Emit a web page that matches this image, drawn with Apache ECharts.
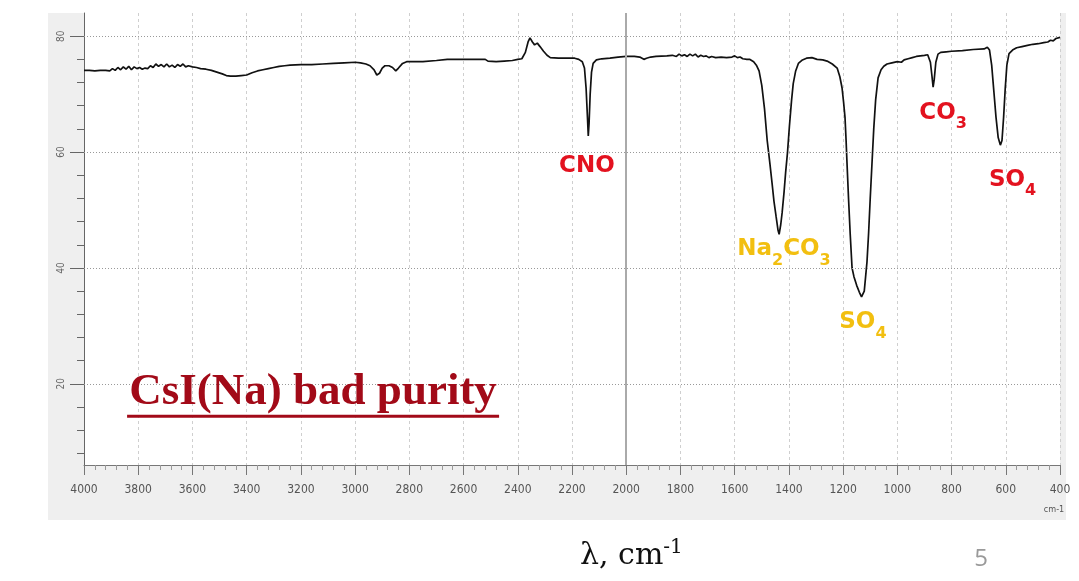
<!DOCTYPE html>
<html>
<head>
<meta charset="utf-8">
<script src="https://cdn.jsdelivr.net/npm/echarts@6/dist/echarts.min.js"></script>
<style>
html, body { margin: 0; padding: 0; background: #fff; }
#chart { width: 1079px; height: 581px; }
</style>
</head>
<body>
<div id="chart"></div>
<script>
// IR transmission spectrum, [wavenumber cm-1, transmittance %]
const spectrum = [
	[4000, 74.1], [3980, 74.1], [3960, 74.0], [3940, 74.1], [3920, 74.1], [3905, 74.0],
	[3895, 74.4], [3885, 74.1], [3875, 74.6], [3865, 74.2], [3855, 74.7], [3845, 74.3],
	[3835, 74.8], [3825, 74.2], [3815, 74.7], [3805, 74.4], [3795, 74.6], [3785, 74.3],
	[3775, 74.5], [3765, 74.4], [3755, 74.9], [3745, 74.6], [3735, 75.2], [3725, 74.8],
	[3715, 75.1], [3705, 74.7], [3695, 75.2], [3685, 74.7], [3675, 75.0], [3665, 74.6],
	[3655, 75.1], [3645, 74.8], [3635, 75.2], [3625, 74.7], [3615, 74.9], [3600, 74.7],
	[3585, 74.6], [3570, 74.4], [3550, 74.3], [3530, 74.1], [3510, 73.8], [3490, 73.5],
	[3475, 73.2], [3460, 73.1], [3440, 73.1], [3420, 73.2], [3400, 73.3], [3380, 73.7],
	[3360, 74.0], [3340, 74.2], [3320, 74.4], [3300, 74.6], [3280, 74.8], [3260, 74.9],
	[3240, 75.0], [3200, 75.1], [3160, 75.1], [3120, 75.2], [3080, 75.3], [3040, 75.4],
	[3000, 75.5], [2980, 75.4], [2960, 75.2], [2945, 74.9], [2930, 74.2], [2920, 73.3],
	[2910, 73.6], [2900, 74.5], [2890, 74.9], [2875, 74.9], [2862, 74.6], [2850, 74.0],
	[2840, 74.5], [2825, 75.3], [2810, 75.6], [2750, 75.6], [2700, 75.8], [2660, 76.0],
	[2580, 76.0], [2520, 76.0], [2510, 75.7], [2480, 75.6], [2450, 75.7], [2420, 75.8],
	[2400, 76.0], [2385, 76.1], [2372, 77.2], [2362, 79.0], [2355, 79.7], [2346, 79.0],
	[2338, 78.5], [2328, 78.8], [2318, 78.2], [2305, 77.4], [2292, 76.7], [2280, 76.3],
	[2250, 76.2], [2190, 76.2], [2175, 76.0], [2162, 75.6], [2154, 74.5], [2148, 71.0],
	[2143, 66.0], [2140, 62.8], [2137, 65.0], [2133, 70.0], [2128, 73.8], [2122, 75.3],
	[2110, 75.9], [2090, 76.1], [2060, 76.2], [2030, 76.4], [2000, 76.5], [1970, 76.5],
	[1950, 76.4], [1935, 76.0], [1925, 76.2], [1910, 76.4], [1890, 76.5], [1850, 76.6],
	[1830, 76.7], [1815, 76.5], [1805, 76.9], [1795, 76.6], [1785, 76.8], [1775, 76.5],
	[1765, 76.9], [1755, 76.6], [1745, 76.9], [1735, 76.4], [1725, 76.7], [1715, 76.5],
	[1705, 76.6], [1695, 76.3], [1685, 76.5], [1670, 76.3], [1650, 76.4], [1630, 76.3],
	[1610, 76.4], [1600, 76.6], [1590, 76.3], [1580, 76.4], [1570, 76.1], [1555, 76.0],
	[1545, 76.0], [1530, 75.6], [1520, 75.0], [1510, 74.0], [1500, 71.5], [1490, 67.5],
	[1480, 62.0], [1470, 58.0], [1462, 54.6], [1455, 51.5], [1447, 48.8], [1440, 46.5],
	[1436, 45.8], [1430, 47.5], [1425, 49.5], [1418, 53.0], [1412, 56.5], [1405, 60.0],
	[1398, 64.5], [1390, 69.0], [1384, 71.8], [1375, 74.0], [1365, 75.3], [1350, 75.9],
	[1335, 76.2], [1315, 76.3], [1296, 76.0], [1275, 75.9], [1259, 75.7], [1240, 75.2],
	[1222, 74.5], [1212, 73.0], [1204, 71.1], [1198, 68.5], [1193, 66.0], [1189, 62.0],
	[1186, 58.5], [1180, 52.0], [1174, 46.0], [1167, 40.0], [1160, 38.5], [1150, 37.0],
	[1140, 35.8], [1132, 35.0], [1127, 34.8], [1122, 36.0], [1117, 38.5], [1112, 41.0],
	[1106, 46.0], [1100, 52.0], [1093, 58.5], [1087, 64.0], [1080, 69.0], [1071, 72.8],
	[1060, 74.2], [1050, 74.8], [1038, 75.2], [1020, 75.4], [1000, 75.6], [985, 75.5],
	[975, 75.9], [960, 76.1], [945, 76.3], [930, 76.5], [915, 76.6], [900, 76.7],
	[888, 76.8], [878, 75.5], [872, 73.0], [868, 71.2], [864, 72.5], [858, 75.5],
	[850, 76.9], [840, 77.2], [820, 77.3], [800, 77.4], [760, 77.5], [720, 77.7],
	[680, 77.8], [668, 78.1], [660, 77.6], [652, 75.0], [644, 70.5], [636, 66.0],
	[628, 62.5], [620, 61.2], [614, 62.0], [608, 66.0], [602, 71.0], [596, 75.0],
	[588, 77.0], [575, 77.6], [560, 78.0], [540, 78.2], [520, 78.4], [500, 78.6],
	[480, 78.7], [460, 78.9], [445, 79.0], [435, 79.3], [425, 79.2], [415, 79.6],
	[408, 79.5], [400, 79.8]
];

const majorLevels = [20, 40, 60, 80];
const minorLevels = [8, 12, 16, 20, 24, 28, 32, 36, 40, 44, 48, 52, 56, 60, 64, 68, 72, 76, 80];
const markerWavenumber = 2000;

// peak notes: wavenumber, transmittance, rich text
const peakNotes = [
	{ wn: 2145, t: 57.6, text: "{r|CNO}" },
	{ wn: 831, t: 66.7, text: "{r|CO}{rs|3}" },
	{ wn: 575, t: 55.2, text: "{r|SO}{rs|4}" },
	{ wn: 1418, t: 43.2, text: "{y|Na}{ys|2}{y|CO}{ys|3}" },
	{ wn: 1127, t: 30.6, text: "{y|SO}{ys|4}" },
	{ wn: 3155, t: 18.2, text: "{c|CsI(Na) bad purity}\n{u|}" }
];

const RED = "#e3121f";
const YELLOW = "#f2bf10";
const DARKRED = "#a20a18";
const NARROW = "'Liberation Sans Narrow', 'DejaVu Sans Condensed', sans-serif";

const chart = echarts.init(document.getElementById("chart"));

const noteRich = {
	r: { fontFamily: "DejaVu Sans", fontWeight: "bold", fontSize: 23, color: RED, lineHeight: 28 },
	rs: { fontFamily: "DejaVu Sans", fontWeight: "bold", fontSize: 16, color: RED, lineHeight: 16, padding: [22, 0, 0, 0] },
	y: { fontFamily: "DejaVu Sans", fontWeight: "bold", fontSize: 23, color: YELLOW, lineHeight: 28 },
	ys: { fontFamily: "DejaVu Sans", fontWeight: "bold", fontSize: 16, color: YELLOW, lineHeight: 16, padding: [22, 0, 0, 0] },
	c: { fontFamily: "Liberation Serif", fontWeight: "bold", fontSize: 45, color: DARKRED, lineHeight: 44 },
	u: { width: 372, height: 3, backgroundColor: DARKRED }
};

option = {
	animation: false,
	backgroundColor: "#fff",
	grid: {
		left: 84,
		right: 19,
		top: 13,
		bottom: 116
	},
	graphic: [{
		type: "rect",
		z: -2,
		shape: { x: 48, y: 13, width: 1018, height: 507 },
		style: { fill: "#efefef" }
	}, {
		type: "rect",
		z: -1,
		shape: { x: 84, y: 13, width: 976, height: 452 },
		style: { fill: "#fff" }
	}, {
		type: "text",
		x: 1054,
		y: 510,
		style: { text: "cm-1", fontSize: 9, fontFamily: NARROW, fill: "#555", align: "center", verticalAlign: "middle" }
	}, {
		type: "text",
		x: 580,
		y: 556,
		style: {
			text: "{m|λ, cm}{p|-1}",
			align: "left",
			verticalAlign: "middle",
			rich: {
				m: { fontFamily: "DejaVu Serif", fontSize: 30, fill: "#111", lineHeight: 34 },
				p: { fontFamily: "DejaVu Serif", fontSize: 20, fill: "#111", lineHeight: 20, padding: [0, 0, 16, 0] }
			}
		}
	}, {
		type: "text",
		x: 981,
		y: 559,
		style: { text: "5", fontFamily: "Open Sans", fontSize: 24, fill: "#9a9a9a", align: "center", verticalAlign: "middle" }
	}],
	xAxis: {
		type: "value",
		inverse: true,
		min: 400,
		max: 4000,
		interval: 200,
		axisLine: { onZero: false, lineStyle: { color: "#777", width: 1 } },
		axisTick: { show: true, length: 10, lineStyle: { color: "#777" } },
		minorTick: { show: true, splitNumber: 5, length: 5, lineStyle: { color: "#999" } },
		axisLabel: {
			fontSize: 12,
			fontFamily: NARROW,
			color: "#555",
			margin: 19,
			showMinLabel: true,
			showMaxLabel: true,
			formatter: v => String(v)
		},
		splitLine: { show: true, lineStyle: { type: [3, 3], color: "#cfcfcf" } }
	},
	yAxis: [{
		type: "value",
		min: 6,
		max: 84,
		position: "left",
		axisLine: { show: true, lineStyle: { color: "#666" } },
		axisTick: { show: true, length: 7, customValues: minorLevels, lineStyle: { color: "#666" } },
		axisLabel: { show: false },
		splitLine: { show: false }
	}, {
		type: "value",
		min: 6,
		max: 84,
		position: "left",
		axisLine: { show: false },
		axisTick: { show: true, length: 14, customValues: majorLevels, lineStyle: { color: "#666" } },
		axisLabel: { customValues: majorLevels, rotate: 90, fontSize: 10, fontFamily: NARROW, color: "#666", margin: 18 },
		splitLine: { show: false }
	}],
	series: [{
		type: "line",
		data: spectrum,
		xAxisIndex: 0,
		yAxisIndex: 0,
		showSymbol: false,
		z: 3,
		lineStyle: { color: "#111", width: 1.7 },
		markLine: {
			silent: true,
			symbol: ["none", "none"],
			label: { show: false },
			data: majorLevels.map(v => ({ yAxis: v, lineStyle: { type: [1, 2], color: "#999", width: 1 } }))
				.concat([{ xAxis: markerWavenumber, lineStyle: { type: "solid", color: "#aaa", width: 2 } }])
		}
	}, {
		type: "scatter",
		silent: true,
		xAxisIndex: 0,
		yAxisIndex: 0,
		symbolSize: 1,
		z: 5,
		itemStyle: { color: "rgba(0,0,0,0)", opacity: 1 },
		label: { show: true, position: "inside", opacity: 1, rich: noteRich },
		data: peakNotes.map(n => ({ value: [n.wn, n.t], label: { formatter: n.text } }))
	}]
};

chart.setOption(option);
window.onresize = chart.resize;
</script>
</body>
</html>
